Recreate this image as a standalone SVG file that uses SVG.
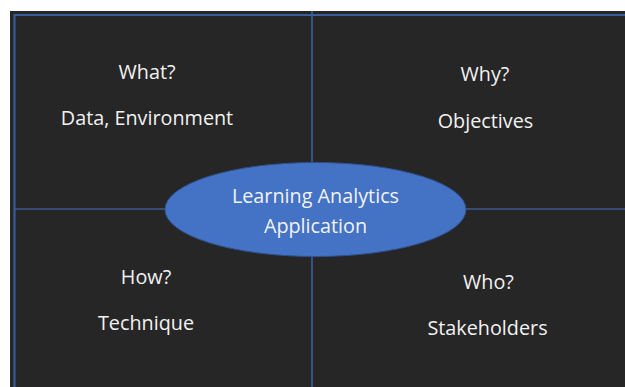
<svg xmlns="http://www.w3.org/2000/svg" width="625" height="387" viewBox="0 0 625 387">
<style>
.lbl{font-family:"Open Sans","Liberation Sans",sans-serif;font-size:19.8px;fill:#F2F2F2;text-anchor:middle}
.div{stroke:#4472C4;stroke-width:1.2;fill:none}
</style>
<rect x="0" y="0" width="625" height="387" fill="#ffffff"/>
<rect x="10" y="11" width="615" height="376" fill="#262626"/>
<g id="connectors">
<line class="div" x1="312" y1="11" x2="312" y2="387"/>
<line class="div" x1="14" y1="209" x2="625" y2="209"/>
</g>
<rect x="14.5" y="15" width="620" height="380" fill="none" stroke="#3A5E9C" stroke-width="2"/>
<g id="what">
<text class="lbl" x="147" y="79">What?</text>
<text class="lbl" x="147" y="124.5">Data, Environment</text>
</g>
<g id="why">
<text class="lbl" x="485" y="81">Why?</text>
<text class="lbl" x="485.5" y="127.5">Objectives</text>
</g>
<g id="how">
<text class="lbl" x="146" y="284">How?</text>
<text class="lbl" x="146" y="329.5">Technique</text>
</g>
<g id="who">
<text class="lbl" x="488.5" y="289">Who?</text>
<text class="lbl" x="487.5" y="335">Stakeholders</text>
</g>
<g id="center">
<ellipse cx="315.5" cy="209.5" rx="150.5" ry="47" fill="#4472C4" stroke="#2F528F" stroke-width="1"/>
<text class="lbl" x="315.5" y="202.5">Learning Analytics</text>
<text class="lbl" x="315.5" y="232.5">Application</text>
</g>
</svg>
